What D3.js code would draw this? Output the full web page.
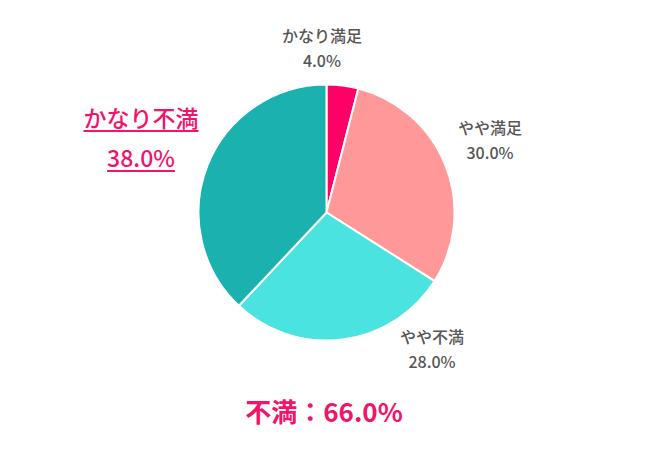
<!DOCTYPE html>
<html>
<head>
<meta charset="utf-8">
<script src="https://cdn.jsdelivr.net/npm/d3@7"></script>
<style>
  body { margin: 0; background: #fff; }
  svg { display: block; font-family: "Noto Sans CJK JP", "Noto Sans", sans-serif; }
</style>
</head>
<body>
<svg id="chart" width="650" height="450"></svg>
<script>
// Satisfaction breakdown
const categories = ['かなり満足', 'やや満足', 'やや不満', 'かなり不満'];
const shares = [4.0, 30.0, 28.0, 38.0];
const sliceColors = ['#ff0066', '#ff9999', '#4be3df', '#1bb1ae'];
const totalLabel = '不満：66.0%';

const svg = d3.select('#chart');
const cx = 326.5, cy = 212.5, radius = 128;
const pink = '#f2136a';

const data = categories.map((c, i) => ({ name: c, value: shares[i], color: sliceColors[i] }));

const pie = d3.pie().sort(null).value(d => d.value);
const arc = d3.arc().innerRadius(0).outerRadius(radius);

const g = svg.append('g').attr('transform', `translate(${cx},${cy})`);

g.selectAll('path')
  .data(pie(data))
  .enter().append('path')
  .attr('d', arc)
  .attr('fill', d => d.data.color)
  .attr('stroke', '#fff')
  .attr('stroke-width', 2);

// small gray labels for the first three slices
const labelPos = [
  { x: 322, y: 42 },
  { x: 490, y: 134 },
  { x: 432, y: 343 }
];

labelPos.forEach((p, i) => {
  svg.append('text')
    .attr('x', p.x).attr('y', p.y)
    .attr('text-anchor', 'middle')
    .style('font-size', '16px')
    .style('font-weight', '500')
    .style('fill', '#555')
    .text(categories[i]);
  svg.append('text')
    .attr('x', p.x).attr('y', p.y + 25)
    .attr('text-anchor', 'middle')
    .style('font-size', '16px')
    .style('font-weight', '500')
    .style('fill', '#555')
    .text(shares[i].toFixed(1) + '%');
});

// highlighted label for the largest slice
const big = svg.append('g');
[[categories[3], 127], [shares[3].toFixed(1) + '%', 167]].forEach(([t, y]) => {
  const txt = big.append('text')
    .attr('x', 141).attr('y', y)
    .attr('text-anchor', 'middle')
    .style('font-size', '23px')
    .style('font-weight', '500')
    .style('fill', pink)
    .text(t);
  const w = txt.node().getComputedTextLength();
  big.append('rect')
    .attr('x', 141 - w / 2).attr('y', y + 3)
    .attr('width', w).attr('height', 2)
    .attr('fill', pink);
});

svg.append('text')
  .attr('x', 324).attr('y', 422)
  .attr('text-anchor', 'middle')
  .style('font-size', '26px')
  .style('font-weight', '700')
  .style('fill', pink)
  .text(totalLabel);
</script>
</body>
</html>
